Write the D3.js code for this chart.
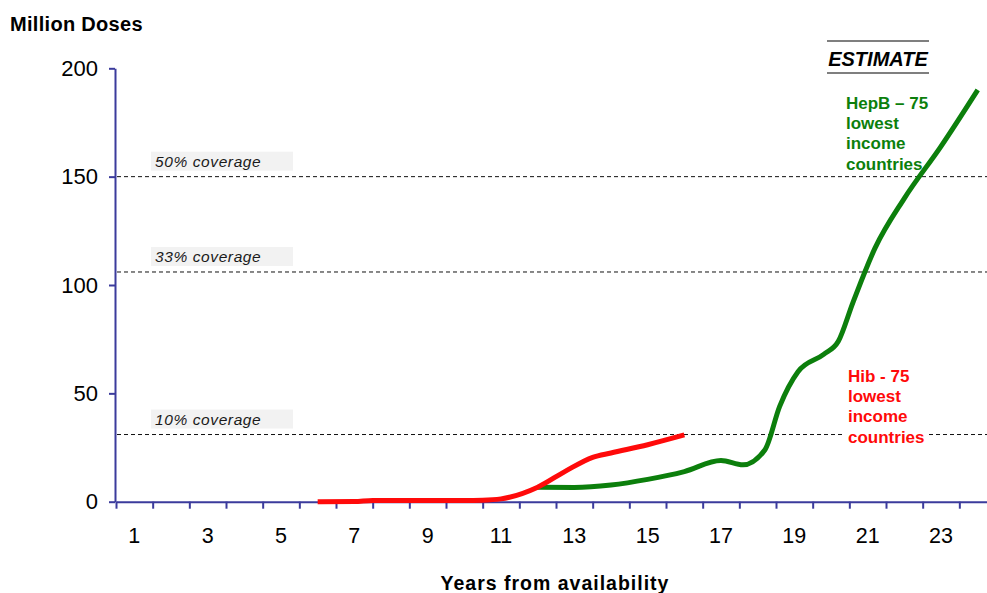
<!DOCTYPE html>
<html>
<head>
<meta charset="utf-8">
<script src="https://cdn.jsdelivr.net/npm/d3@7"></script>
<style>
  body { margin: 0; background: #fff; }
  svg { display: block; font-family: "Liberation Sans", Arial, sans-serif; }
</style>
</head>
<body>
<div id="chart"></div>
<script>
// Data
const yearLabels = [1, 3, 5, 7, 9, 11, 13, 15, 17, 19, 21, 23];
const yTicks = [0, 50, 100, 150, 200];

// Hib - 75 lowest income countries (years from availability, million doses)
const hibYears = [6, 7, 7.5, 8, 9, 10, 10.5, 11, 12, 12.75, 13.5, 14, 15, 16];
const hibDoses = [0, 0.1, 0.6, 0.6, 0.6, 0.6, 0.7, 1.3, 6.7, 14, 20.5, 22.5, 26.3, 30.8];

// HepB - 75 lowest income countries
const hepbYears = [12, 13, 14, 15, 16, 17, 17.6, 18.2, 18.6, 19.1, 19.8, 20.2, 20.6, 21.2, 22, 23, 24];
const hepbDoses = [6.7, 6.6, 7.7, 10.3, 13.9, 19, 17, 24, 44, 60, 68, 74, 92, 117, 140, 164, 190];

// coverage reference lines
const coverageLabels = ["50% coverage", "33% coverage", "10% coverage"];
const coverageValues = [150, 106, 31];

const hepbLabel = ["HepB \u2013 75", "lowest", "income", "countries"];
const hibLabel = ["Hib - 75", "lowest", "income", "countries"];

// Dimensions
const width = 987, height = 593;
const axisColor = "#3b3b9c";
const green = "#0c7f0c", red = "#ff0a0a";

const svg = d3.select("#chart").append("svg")
    .attr("width", width)
    .attr("height", height);

// x: one band per year, boundaries at integers 0..24
const x = d3.scaleLinear().domain([0, 24]).range([116, 996]);
const y = d3.scaleLinear().domain([0, 200]).range([501.7, 68.3]);
const px = yr => x(yr - 0.5);

// ------------ REFERENCE LINES ------------ //
const cov = svg.append("g").attr("class", "coverage");
coverageValues.forEach((v, i) => {
    cov.append("rect")
        .attr("x", 151).attr("y", y(v) - 25)
        .attr("width", 142).attr("height", 19)
        .attr("fill", "#f2f2f2");
    cov.append("text")
        .attr("x", 155).attr("y", y(v) - 10)
        .attr("font-size", "15.5px")
        .attr("font-style", "italic")
        .attr("letter-spacing", "0.6px")
        .attr("fill", "#1a1a1a")
        .text(coverageLabels[i]);
    cov.append("line")
        .attr("x1", 117).attr("x2", width)
        .attr("y1", y(v)).attr("y2", y(v))
        .attr("stroke", "#111")
        .attr("stroke-width", 1)
        .attr("stroke-dasharray", "4,3");
});

// ------------ AXES ------------ //
const yAxis = svg.append("g")
    .attr("transform", `translate(${x(0) - 1},0)`)
    .call(d3.axisLeft(y).tickValues(yTicks).tickSize(6).tickSizeOuter(0).tickPadding(11));
yAxis.selectAll("text").attr("font-size", "22px").attr("fill", "#000")
    .attr("font-family", "Liberation Sans, Arial, sans-serif");

const xAxis = svg.append("g")
    .attr("transform", `translate(0,${y(0)})`)
    .call(d3.axisBottom(x).tickValues(d3.range(0, 25)).tickSize(7).tickSizeOuter(0).tickFormat(""));

[yAxis, xAxis].forEach(a => {
    a.select(".domain").attr("stroke", axisColor).attr("stroke-width", 2);
    a.selectAll(".tick line").attr("stroke", axisColor).attr("stroke-width", 2);
});

svg.append("g").selectAll("text")
    .data(yearLabels)
    .enter().append("text")
    .attr("x", d => px(d))
    .attr("y", 543)
    .attr("text-anchor", "middle")
    .attr("font-size", "21.5px")
    .text(d => d);

// titles
svg.append("text")
    .attr("x", 10).attr("y", 31)
    .attr("font-size", "20px").attr("font-weight", "bold")
    .attr("letter-spacing", "0.3px")
    .text("Million Doses");

svg.append("text")
    .attr("x", 555).attr("y", 590)
    .attr("text-anchor", "middle")
    .attr("font-size", "19.5px").attr("font-weight", "bold")
    .attr("letter-spacing", "1px")
    .text("Years from availability");

// ESTIMATE box
const est = svg.append("g");
[41, 73].forEach(yy => est.append("line")
    .attr("x1", 827).attr("x2", 929).attr("y1", yy).attr("y2", yy)
    .attr("stroke", "#555").attr("stroke-width", 1.5));
est.append("text")
    .attr("x", 878).attr("y", 66)
    .attr("text-anchor", "middle")
    .attr("font-size", "20px").attr("font-weight", "bold").attr("font-style", "italic")
    .text("ESTIMATE");

// ------------ SERIES ------------ //
const line = d3.line()
    .x(d => px(d[0]))
    .y(d => y(d[1]))
    .curve(d3.curveMonotoneX);

// Hib label has a white box hiding the dashed line
svg.append("rect")
    .attr("x", 845).attr("y", 366)
    .attr("width", 82).attr("height", 83)
    .attr("fill", "#fff");

svg.append("path")
    .datum(d3.zip(hepbYears, hepbDoses))
    .attr("d", line)
    .attr("fill", "none")
    .attr("stroke", green)
    .attr("stroke-width", 5)
    .attr("stroke-linejoin", "round");

svg.append("path")
    .datum(d3.zip(hibYears, hibDoses))
    .attr("d", line)
    .attr("fill", "none")
    .attr("stroke", red)
    .attr("stroke-width", 5)
    .attr("stroke-linejoin", "round");

function addLabel(lines, x0, y0, color) {
    svg.append("g").selectAll("text")
        .data(lines)
        .enter().append("text")
        .attr("x", x0)
        .attr("y", (d, i) => y0 + i * 20.2)
        .attr("font-size", "17px")
        .attr("font-weight", "bold")
        .attr("fill", color)
        .text(d => d);
}
addLabel(hepbLabel, 846, 109, green);
addLabel(hibLabel, 848, 382, red);
</script>
</body>
</html>
